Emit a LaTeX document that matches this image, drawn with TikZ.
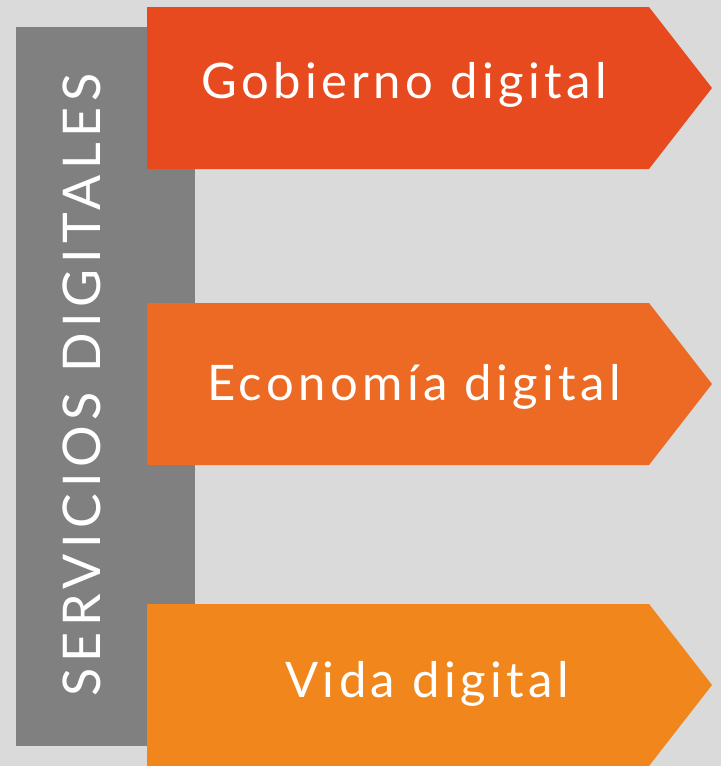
\documentclass[tikz,border=0pt]{standalone}
\usepackage{fontspec}
\setmainfont{Lato}
\usepackage{xcolor}
\usetikzlibrary{positioning}
\definecolor{bggray}{HTML}{DADADA}
\definecolor{bargray}{HTML}{7F807F}
\definecolor{gobred}{HTML}{E84A1F}
\definecolor{ecoorange}{HTML}{EC6A23}
\definecolor{vidaorange}{HTML}{F0861C}

\begin{document}
\begin{tikzpicture}[
    x=1pt, y=-1pt,
    bannertext/.style={text=white, anchor=base, inner sep=0,
        font=\fontsize{49}{49}\selectfont\addfontfeature{LetterSpace=9}},
    sidetext/.style={text=white, anchor=base, inner sep=0, rotate=90,
        font=\fontsize{52}{52}\selectfont\addfontfeature{LetterSpace=11}}]
\useasboundingbox (0,0) rectangle (721,766);
\fill[bggray] (0,0) rectangle (721,766);

% side bar
\fill[bargray] (16,27) rectangle (195,746);
\node (side) [sidetext] at (100,385) {SERVICIOS DIGITALES};

% the three arrows
\foreach \ytop/\col in {7/gobred, 303/ecoorange, 604/vidaorange}
    \fill[\col] (147,\ytop) -- (649,\ytop) -- (712,\ytop+81) -- (649,\ytop+162) -- (147,\ytop+162) -- cycle;

\node (gob)  [bannertext] at (404,98)  {Gobierno digital};
\node (eco)  [bannertext] at (414,400) {Economía digital};
\node (vida) [bannertext] at (427,697) {Vida digital};

\end{tikzpicture}
\end{document}
